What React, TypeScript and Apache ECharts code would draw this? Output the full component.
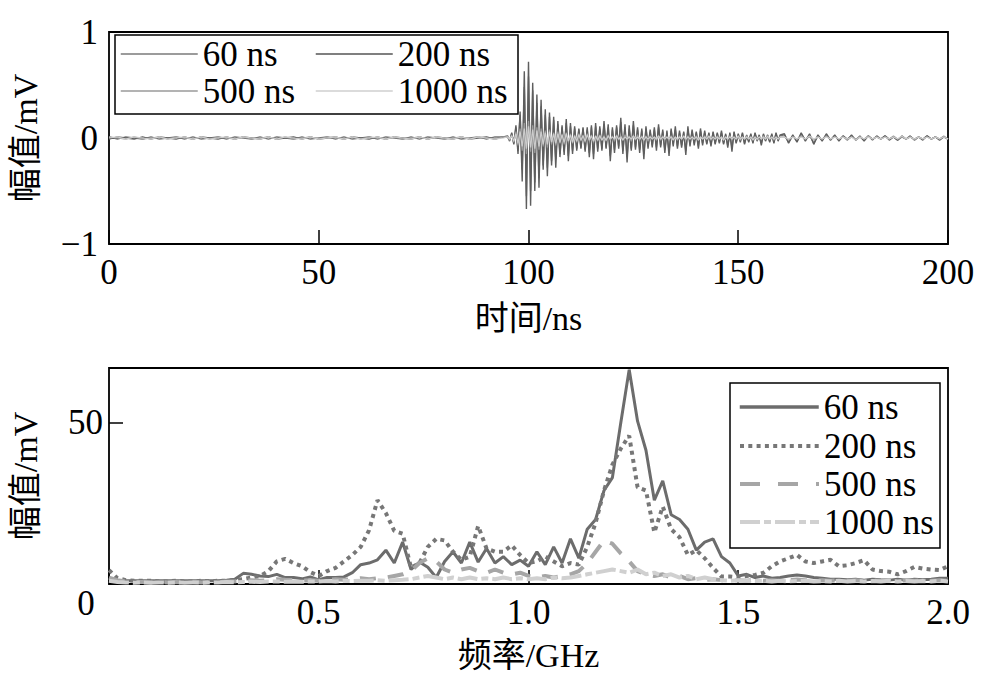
import { useEffect, useRef } from "react";
import * as echarts from "echarts";

const FONT = "'Liberation Serif', 'Times New Roman', 'Noto Sans CJK SC', serif";

const seriesNames = ["60 ns", "200 ns", "500 ns", "1000 ns"];

// ---------- time domain (top) ----------
// sampling grid: 0..94 step 2, 95..160 step 0.5, 161..200 step 1
const timeNs: number[] = [];
for (let t = 0; t <= 94; t += 2) timeNs.push(t);
for (let i = 0; i <= 130; i++) timeNs.push(95 + i * 0.5);
for (let t = 161; t <= 200; t++) timeNs.push(t);

const base60 = [
  0.01, -0.01, 0.01, 0, -0.01, 0.01, -0.01, 0,
  0.01, -0.01, 0.01, -0.01, 0, 0.01, -0.01, 0.01,
  0, -0.01, 0.01, -0.01, 0.01, 0, -0.01, 0.01,
  -0.01, 0, 0.01, -0.01, 0.01, -0.01, 0, 0.01,
  -0.01, 0.01, 0, -0.01, 0.01, -0.01, 0.01, 0,
  -0.01, 0.01, -0.01, 0, 0.01, -0.01, 0.01, 0.01,
];
const active60 = [
  0.01, -0.02, 0.04, -0.05, 0.1, -0.12, 0.22, -0.3, 0.48, -0.55,
  0.58, -0.5, 0.45, -0.42, 0.33, -0.38, 0.3, -0.26, 0.22, -0.28,
  0.2, -0.22, 0.17, -0.2, 0.13, -0.15, 0.1, -0.13, 0.14, -0.17,
  0.11, -0.12, 0.09, -0.1, 0.08, -0.09, 0.09, -0.11, 0.08, -0.14,
  0.1, -0.15, 0.11, -0.1, 0.09, -0.1, 0.13, -0.09, 0.1, -0.17,
  0.08, -0.11, 0.1, -0.08, 0.15, -0.12, 0.1, -0.18, 0.09, -0.1,
  0.12, -0.09, 0.08, -0.11, 0.07, -0.15, 0.09, -0.08, 0.06, -0.07,
  0.08, -0.09, 0.1, -0.07, 0.06, -0.11, 0.05, -0.13, 0.07, -0.06,
  0.08, -0.08, 0.05, -0.07, 0.05, -0.12, 0.08, -0.06, 0.06, -0.05,
  0.05, -0.08, 0.07, -0.05, 0.05, -0.05, 0.04, -0.06, 0.05, -0.05,
  0.04, -0.04, 0.05, -0.05, 0.03, -0.07, 0.04, -0.09, 0.05, -0.04,
  0.03, -0.03, 0.04, -0.05, 0.02, -0.03, 0.03, -0.04, 0.04, -0.02,
  0.02, -0.05, 0.03, -0.02, 0.02, -0.03, 0.03, -0.04, 0.04, -0.02,
  0.02,
];
const tail60 = [
  0.03, -0.04, 0.02, -0.03, 0.04, -0.02, 0.03, -0.05, 0.02, -0.02,
  0.03, -0.02, 0.02, -0.02, 0.02, -0.01, 0.02, -0.02, 0.01, -0.02,
  0.02, -0.01, 0.01, -0.01, 0.02, -0.01, 0.01, -0.02, 0.01, -0.01,
  0.01, -0.01, 0.01, -0.01, 0.02, -0.01, 0.01, -0.01, 0.01, -0.01,
];

const base200 = [
  -0.01, 0.01, 0, -0.01, 0.01, -0.01, 0.01, 0,
  -0.01, 0.01, -0.01, 0.01, 0, -0.01, 0.01, -0.01,
  0.01, 0, -0.01, 0.01, -0.01, 0, 0.01, -0.01,
  0.01, -0.01, 0, 0.01, -0.01, 0.01, 0, -0.01,
  0.01, -0.01, 0.01, 0, -0.01, 0.01, -0.01, 0.01,
  0, -0.01, 0.01, -0.01, 0, 0.01, -0.01, 0.01,
];
const active200 = [
  0.02, -0.03, 0.05, -0.06, 0.12, -0.15, 0.25, -0.41, 0.63, -0.67,
  0.72, -0.64, 0.52, -0.5, 0.41, -0.47, 0.36, -0.3, 0.27, -0.36,
  0.24, -0.26, 0.2, -0.28, 0.16, -0.18, 0.12, -0.16, 0.18, -0.22,
  0.14, -0.15, 0.11, -0.12, 0.09, -0.1, 0.1, -0.13, 0.1, -0.18,
  0.12, -0.2, 0.14, -0.13, 0.11, -0.12, 0.16, -0.1, 0.13, -0.22,
  0.1, -0.14, 0.12, -0.1, 0.19, -0.15, 0.13, -0.23, 0.12, -0.12,
  0.16, -0.11, 0.1, -0.14, 0.09, -0.2, 0.11, -0.1, 0.08, -0.09,
  0.1, -0.12, 0.13, -0.09, 0.08, -0.14, 0.07, -0.17, 0.09, -0.08,
  0.11, -0.1, 0.07, -0.09, 0.06, -0.16, 0.11, -0.08, 0.08, -0.07,
  0.06, -0.1, 0.09, -0.07, 0.07, -0.06, 0.05, -0.08, 0.06, -0.06,
  0.05, -0.05, 0.07, -0.06, 0.04, -0.09, 0.05, -0.13, 0.06, -0.05,
  0.04, -0.04, 0.05, -0.06, 0.03, -0.04, 0.04, -0.05, 0.05, -0.03,
  0.03, -0.07, 0.04, -0.03, 0.03, -0.04, 0.04, -0.05, 0.05, -0.03,
  0.03,
];
const tail200 = [
  0.04, -0.05, 0.03, -0.04, 0.05, -0.03, 0.04, -0.06, 0.03, -0.03,
  0.04, -0.02, 0.03, -0.03, 0.02, -0.02, 0.03, -0.02, 0.02, -0.03,
  0.02, -0.02, 0.02, -0.01, 0.02, -0.02, 0.01, -0.02, 0.02, -0.01,
  0.02, -0.02, 0.01, -0.02, 0.02, -0.01, 0.01, -0.02, 0.01, -0.01,
];

const base500 = [
  0.01, 0, -0.01, 0.01, -0.01, 0, 0.01, -0.01,
  0.01, 0, -0.01, 0.01, -0.01, 0.01, 0, -0.01,
  0.01, -0.01, 0, 0.01, -0.01, 0.01, -0.01, 0,
  0.01, -0.01, 0.01, 0, -0.01, 0.01, -0.01, 0.01,
  0, -0.01, 0.01, -0.01, 0, 0.01, -0.01, 0.01,
  -0.01, 0, 0.01, -0.01, 0.01, 0, -0.01, 0.01,
];
const active500 = [
  0.01, -0.02, 0.03, -0.04, 0.06, -0.07, 0.09, -0.12, 0.14, -0.15,
  0.16, -0.13, 0.12, -0.14, 0.1, -0.11, 0.09, -0.08, 0.07, -0.09,
  0.08, -0.06, 0.05, -0.07, 0.06, -0.05, 0.04, -0.06, 0.05, -0.04,
  0.04, -0.05, 0.03, -0.04, 0.04, -0.03, 0.03, -0.04, 0.04, -0.03,
  0.03, -0.04, 0.02, -0.03, 0.03, -0.02, 0.02, -0.03, 0.03, -0.02,
  0.02, -0.03, 0.03, -0.02, 0.02, -0.02, 0.03, -0.02, 0.02, -0.03,
  0.02, -0.02, 0.03, -0.02, 0.02, -0.02, 0.02, -0.03, 0.02, -0.01,
  0.01, -0.02, 0.02, -0.02, 0.02, -0.01, 0.01, -0.02, 0.02, -0.01,
  0.01, -0.02, 0.02, -0.01, 0.01, -0.02, 0.02, -0.01, 0.01, -0.01,
  0.02, -0.02, 0.01, -0.01, 0.02, -0.01, 0.01, -0.02, 0.01, -0.01,
  0.02, -0.01, 0.01, -0.02, 0.01, -0.01, 0.02, -0.01, 0.01, -0.01,
  0.01, -0.02, 0.01, -0.01, 0.02, -0.01, 0.01, -0.01, 0.01, -0.02,
  0.01, -0.01, 0.02, -0.01, 0.01, -0.01, 0.01, -0.02, 0.01, -0.01,
  0.01,
];
const tail500 = [
  0.01, -0.02, 0.01, -0.01, 0.02, -0.01, 0.01, -0.02, 0.01, -0.01,
  0.02, -0.01, 0.01, -0.01, 0.01, -0.02, 0.01, -0.01, 0.01, -0.01,
  0.02, -0.01, 0.01, -0.01, 0.01, -0.01, 0.02, -0.01, 0.01, -0.01,
  0.01, -0.02, 0.01, -0.01, 0.01, -0.01, 0.01, -0.01, 0.02, -0.01,
];

const base1000 = [
  0, 0.01, -0.01, 0.01, 0, -0.01, 0.01, -0.01,
  0, 0.01, -0.01, 0.01, -0.01, 0, 0.01, -0.01,
  0.01, 0, -0.01, 0.01, -0.01, 0.01, 0, -0.01,
  0.01, -0.01, 0, 0.01, -0.01, 0.01, -0.01, 0,
  0.01, -0.01, 0.01, 0, -0.01, 0.01, -0.01, 0.01,
  0, -0.01, 0.01, -0.01, 0.01, 0, -0.01, 0,
];
const active1000 = [
  0.01, -0.01, 0.02, -0.03, 0.04, -0.05, 0.06, -0.08, 0.09, -0.1,
  0.11, -0.09, 0.08, -0.1, 0.07, -0.08, 0.06, -0.06, 0.05, -0.06,
  0.06, -0.04, 0.04, -0.05, 0.04, -0.04, 0.03, -0.04, 0.04, -0.03,
  0.03, -0.04, 0.02, -0.03, 0.03, -0.02, 0.02, -0.03, 0.03, -0.02,
  0.02, -0.03, 0.02, -0.02, 0.02, -0.02, 0.01, -0.02, 0.02, -0.01,
  0.01, -0.01, 0.02, -0.01, 0.01, -0.02, 0.01, -0.01, 0.01, -0.01,
  0.02, -0.01, 0.01, -0.01, 0.01, -0.02, 0.01, -0.01, 0.01, -0.01,
  0.01, -0.01, 0.02, -0.01, 0.01, -0.01, 0.01, -0.01, 0.01, -0.02,
  0.01, -0.01, 0.01, -0.01, 0.02, -0.01, 0.01, -0.01, 0.01, -0.01,
  0.01, -0.02, 0.01, -0.01, 0.01, -0.01, 0.02, -0.01, 0.01, -0.01,
  0.01, -0.01, 0.01, -0.02, 0.01, -0.01, 0.01, -0.01, 0.01, -0.01,
  0.02, -0.01, 0.01, -0.01, 0.01, -0.01, 0.01, -0.02, 0.01, -0.01,
  0.01, -0.01, 0.01, -0.01, 0.02, -0.01, 0.01, -0.01, 0.01, -0.01,
  0.01,
];
const tail1000 = [
  0.01, -0.01, 0.01, -0.01, 0.01, -0.01, 0.02, -0.01, 0.01, -0.01,
  0.01, -0.01, 0.01, -0.01, 0.01, -0.01, 0.01, -0.02, 0.01, -0.01,
  0.01, -0.01, 0.01, -0.01, 0.01, -0.01, 0.01, -0.01, 0.02, -0.01,
  0.01, -0.01, 0.01, -0.01, 0.01, -0.01, 0.01, -0.01, 0.01, -0.01,
];

const wave60 = [...base60, ...active60, ...tail60];
const wave200 = [...base200, ...active200, ...tail200];
const wave500 = [...base500, ...active500, ...tail500];
const wave1000 = [...base1000, ...active1000, ...tail1000];

// ---------- frequency domain (bottom) ----------
const freqGHz: number[] = [];
for (let i = 0; i <= 100; i++) freqGHz.push(+(i * 0.02).toFixed(2));

const spec60 = [
  1.5, 1.2, 1.0, 1.0, 1.0, 1.0, 1.0, 1.0, 1.0, 1.0,
  1.0, 1.0, 1.0, 1.0, 1.2, 1.5, 3.3, 3.0, 2.5, 2.3,
  3.0, 2.0, 2.0, 1.6, 2.2, 1.3, 2.0, 2.0, 2.2, 3.5,
  6.0, 6.5, 7.5, 10.5, 6.5, 13.0, 4.5, 6.8, 5.2, 2.0,
  7.0, 10.0, 6.5, 13.0, 6.8, 11.0, 6.5, 8.5, 6.0, 7.4,
  5.5, 10.0, 6.0, 11.5, 6.5, 14.0, 8.0, 17.0, 20.0, 29.0,
  33.0, 50.0, 66.5, 50.5, 41.5, 26.0, 32.0, 21.5, 20.0, 17.0,
  10.5, 13.0, 14.0, 8.5, 6.5, 2.5, 3.0, 2.0, 2.5, 1.8,
  2.0, 2.5, 2.8, 2.5, 2.0, 1.8, 1.5, 1.5, 1.3, 1.5,
  1.2, 1.5, 1.3, 1.2, 1.5, 1.2, 1.5, 1.3, 1.5, 1.8,
  1.8,
];
const spec200 = [
  4.3, 1.8, 1.2, 1.0, 1.0, 1.0, 0.8, 0.8, 1.0, 0.8,
  0.8, 1.0, 0.8, 1.0, 1.0, 1.2, 1.5, 2.0, 2.5, 4.0,
  7.0, 7.8, 6.5, 5.5, 3.7, 2.5, 4.0, 5.0, 7.0, 9.0,
  11.5, 16.7, 26.0, 22.0, 16.5, 15.6, 5.0, 6.5, 11.5, 14.0,
  13.5, 10.0, 7.5, 8.5, 18.0, 11.0, 10.0, 10.0, 12.0, 9.0,
  6.5, 7.0, 8.5, 7.0, 5.5, 6.5, 6.0, 11.5, 19.0, 29.0,
  37.0, 42.0, 46.0, 30.0, 29.0, 16.0, 24.0, 17.0, 14.5, 9.0,
  10.5, 8.0, 5.0, 2.3, 2.3, 2.0, 2.5, 2.8, 3.5, 5.5,
  7.0, 8.0, 9.0, 7.0, 6.5, 7.0, 7.5, 5.5, 5.8, 6.5,
  7.4, 4.5, 4.0, 3.8, 3.0, 4.0, 5.3, 4.8, 4.5, 4.3,
  5.5,
];
const spec500 = [
  2.0, 1.2, 0.8, 0.6, 0.6, 0.5, 0.6, 0.5, 0.6, 0.5,
  0.6, 0.5, 0.6, 0.6, 0.8, 0.8, 1.0, 1.2, 1.0, 1.2,
  1.5, 1.3, 1.2, 1.0, 1.2, 1.0, 1.2, 1.5, 1.3, 1.5,
  1.8, 1.5, 1.8, 2.0, 2.5, 3.0, 4.0, 6.5, 8.0, 7.0,
  4.5, 3.5, 4.5, 5.0, 4.0, 3.5, 4.5, 3.5, 3.0, 3.5,
  2.5, 2.0, 2.5, 2.0, 2.5, 3.0, 4.0, 6.5, 10.0, 13.5,
  12.5, 9.5, 7.0, 4.0, 3.0, 2.5, 3.0, 2.0, 2.5, 1.5,
  1.8, 1.2, 1.5, 1.2, 1.0, 1.2, 1.0, 1.3, 1.0, 1.2,
  1.0, 1.2, 1.4, 1.2, 1.0, 1.2, 1.0, 1.2, 1.0, 1.2,
  1.0, 1.1, 1.0, 1.2, 1.0, 1.2, 1.0, 1.2, 1.0, 1.2,
  1.0,
];
const spec1000 = [
  1.0, 0.6, 0.5, 0.4, 0.5, 0.4, 0.5, 0.4, 0.5, 0.4,
  0.5, 0.4, 0.5, 0.5, 0.6, 0.5, 0.6, 0.7, 0.6, 0.8,
  0.8, 0.7, 0.8, 0.7, 0.8, 0.8, 0.9, 0.8, 1.0, 0.9,
  1.0, 1.0, 1.2, 1.0, 1.2, 1.3, 1.5, 2.0, 2.5, 2.0,
  1.5, 2.0, 1.5, 2.0, 1.5, 1.8, 1.5, 2.0, 1.5, 1.8,
  1.5, 1.8, 1.5, 2.0, 1.8, 2.0, 2.5, 3.0, 3.5, 4.0,
  4.5, 4.0, 3.5, 4.5, 3.0, 3.5, 2.5, 3.0, 2.0, 2.5,
  1.5, 2.0, 1.5, 1.2, 1.0, 1.2, 1.0, 0.9, 1.0, 0.8,
  1.0, 0.8, 0.9, 1.0, 0.8, 0.9, 0.8, 1.0, 0.8, 0.9,
  0.8, 0.9, 0.8, 1.0, 0.8, 0.9, 0.8, 0.9, 0.8, 1.0,
  0.8,
];

const timeColors = ["#747474", "#5e5e5e", "#9c9c9c", "#cccccc"];
const timeLegendColors = ["#7a7a7a", "#555555", "#9a9a9a", "#cfcfcf"];
const specColors = ["#6c6c6c", "#777777", "#a6a6a6", "#d0d0d0"];
const specDash: any[] = ["solid", [4, 4.3], [16, 12], [20, 4, 7, 4]];
const specLegendDash: any[] = ["solid", [4, 4.3], [20, 18], [20, 4, 7, 4]];

export default function App() {
  const ref = useRef<HTMLDivElement>(null);
  useEffect(() => {
    if (!ref.current) return;
    const chart = echarts.init(ref.current, undefined, { renderer: "svg" });
    const waves = [wave60, wave200, wave500, wave1000];
    const specs = [spec60, spec200, spec500, spec1000];

    const pairs = (xs: number[], ys: number[]) =>
      ys.map((v, i) => [xs[i], v]);

    const topSeries = waves.map((w, k) => ({
      type: "line",
      name: seriesNames[k],
      xAxisIndex: 0,
      yAxisIndex: 0,
      data: pairs(timeNs, w),
      symbol: "none",
      lineStyle: { color: timeColors[k], width: k < 2 ? 1.4 : 1.2 },
      silent: true,
    }));
    const bottomSeries = specs.map((s, k) => ({
      type: "line",
      name: "f" + seriesNames[k],
      xAxisIndex: 1,
      yAxisIndex: 1,
      data: pairs(freqGHz, s),
      symbol: "none",
      lineStyle: { color: specColors[k], width: k === 0 ? 3 : 4, type: specDash[k] },
      silent: true,
    }));

    const textStyle = { fontFamily: FONT, fontSize: 35, color: "#000", lineHeight: 38 };
    const topLegendPos = [
      [120, 54],
      [315, 54],
      [120, 91],
      [315, 91],
    ];
    const bottomLegendRows = [407, 446, 484, 522];
    const legends: any[] = [];
    seriesNames.forEach((n, k) => {
      legends.push({
        data: [n],
        left: topLegendPos[k][0],
        top: topLegendPos[k][1] - 19,
        padding: 0,
        itemWidth: 77,
        itemHeight: 14,
        selectedMode: false,
        textStyle,
        itemStyle: { opacity: 0, borderWidth: 0 },
        lineStyle: { color: timeLegendColors[k], width: 1.5, type: "solid", opacity: 1 },
        z: 10,
      });
      legends.push({
        data: ["f" + n],
        formatter: () => n,
        left: 738,
        top: bottomLegendRows[k] - 19,
        padding: 0,
        itemWidth: 79,
        itemHeight: 14,
        selectedMode: false,
        textStyle,
        itemStyle: { opacity: 0, borderWidth: 0 },
        lineStyle: {
          color: specColors[k],
          width: k === 0 ? 3.5 : 4,
          type: specLegendDash[k],
          opacity: 1,
        },
        z: 10,
      });
    });

    const axisLabelBase = { fontFamily: FONT, fontSize: 35, color: "#000" };
    const titleStyle = { fontFamily: FONT, fontSize: 34, color: "#000" };
    const tick = { inside: true, length: 14, lineStyle: { color: "#000", width: 1.5 } };

    chart.setOption({
      animation: false,
      backgroundColor: "#fff",
      grid: [
        { left: 106, top: 32, width: 842, height: 212, show: true, borderColor: "#000", borderWidth: 1.8, backgroundColor: "transparent" },
        { left: 106, top: 368, width: 842, height: 216, show: true, borderColor: "#000", borderWidth: 1.8, backgroundColor: "transparent" },
      ],
      xAxis: [
        {
          gridIndex: 0,
          type: "value",
          min: 0,
          max: 200,
          interval: 50,
          axisLine: { show: false, onZero: false },
          axisTick: tick,
          splitLine: { show: false },
          axisLabel: { ...axisLabelBase, margin: 11 },
          name: "时间/ns",
          nameLocation: "middle",
          nameGap: 57,
          nameTextStyle: titleStyle,
        },
        {
          gridIndex: 1,
          type: "value",
          min: 0,
          max: 2,
          interval: 0.5,
          axisLine: { show: false, onZero: false },
          axisTick: tick,
          splitLine: { show: false },
          axisLabel: {
            ...axisLabelBase,
            margin: 11,
            formatter: (v: number) => (v === 0 ? "" : v.toFixed(1)),
          },
          name: "频率/GHz",
          nameLocation: "middle",
          nameGap: 54,
          nameTextStyle: titleStyle,
        },
      ],
      yAxis: [
        {
          gridIndex: 0,
          type: "value",
          min: -1,
          max: 1,
          interval: 1,
          axisLine: { show: false, onZero: false },
          axisTick: tick,
          splitLine: { show: false },
          axisLabel: {
            ...axisLabelBase,
            margin: 11,
            formatter: (v: number) => (v < 0 ? "\u2212" + Math.abs(v) : String(v)),
          },
          name: "幅值/mV",
          nameLocation: "middle",
          nameGap: 67,
          nameTextStyle: titleStyle,
        },
        {
          gridIndex: 1,
          type: "value",
          min: 0,
          max: 67,
          interval: 50,
          axisLine: { show: false, onZero: false },
          axisTick: tick,
          splitLine: { show: false },
          axisLabel: {
            ...axisLabelBase,
            margin: 6,
            formatter: (v: number) => (v === 50 ? "50" : ""),
          },
          name: "幅值/mV",
          nameLocation: "middle",
          nameGap: 67,
          nameTextStyle: titleStyle,
        },
      ],
      legend: legends,
      graphic: [
        {
          type: "rect",
          shape: { x: 115, y: 35, width: 403, height: 79 },
          style: { fill: "#fff", stroke: "#000", lineWidth: 1.5 },
          z: 5,
        },
        {
          type: "rect",
          shape: { x: 730, y: 383, width: 210, height: 165 },
          style: { fill: "#fff", stroke: "#000", lineWidth: 1.5 },
          z: 5,
        },
        {
          type: "text",
          x: 86,
          y: 603,
          style: {
            text: "0",
            fontFamily: FONT,
            fontSize: 35,
            fill: "#000",
            align: "center",
            verticalAlign: "middle",
          },
          z: 5,
        },
      ],
      series: [...topSeries, ...bottomSeries],
    });
    return () => chart.dispose();
  }, []);

  return (
    <div
      ref={ref}
      style={{ position: "absolute", left: 0, top: 0, width: 982, height: 693 }}
    />
  );
}
